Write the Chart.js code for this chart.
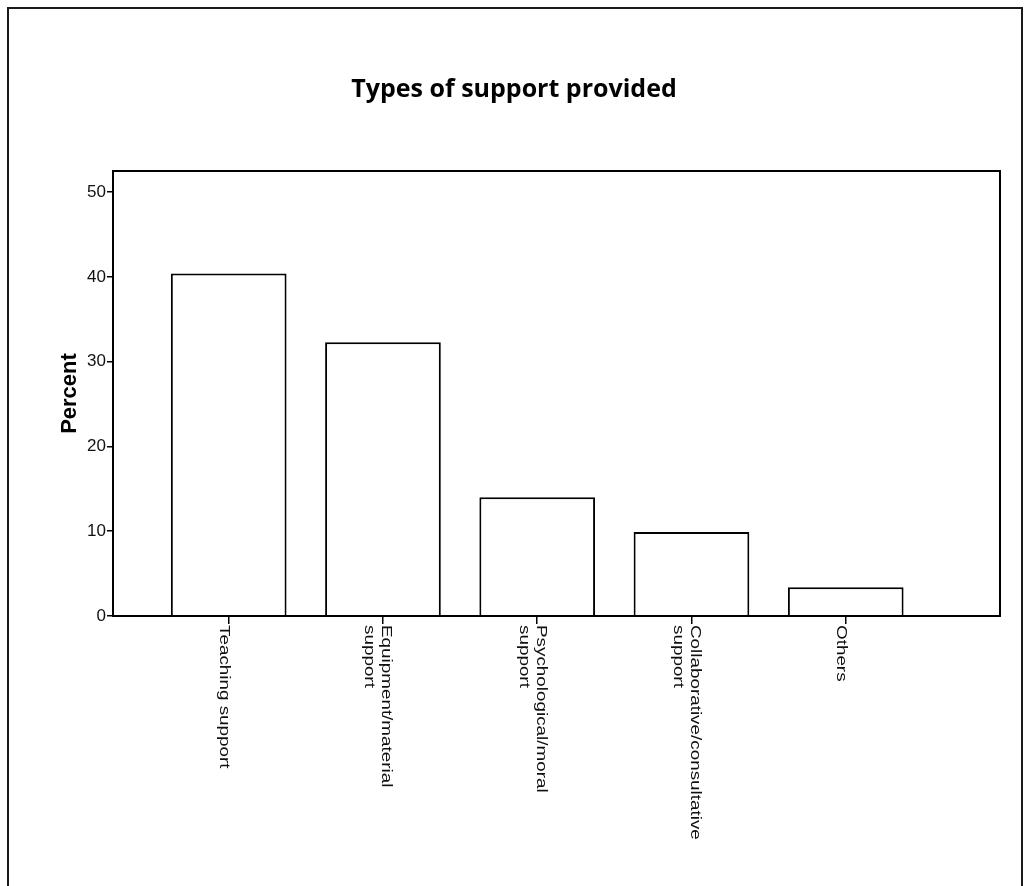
<!DOCTYPE html>
<html lang="en">
<head>
  <meta charset="UTF-8">
  <title>Types of support provided</title>
  <script src="https://cdn.jsdelivr.net/npm/chart.js"></script>
  <style>
    body {
      margin: 0;
      background: #fff;
    }
  </style>
</head>
<body>
  <canvas id="supportChart" width="1028" height="886"></canvas>

  <script>
    // values
    const categories = [
      ['Teaching support'],
      ['Equipment/material', 'support'],
      ['Psychological/moral', 'support'],
      ['Collaborative/consultative', 'support'],
      ['Others']
    ];
    const percents = [40.4, 32.3, 14.0, 9.9, 3.4];
    const yTicks = [0, 10, 20, 30, 40, 50];

    // outer page frame + white background
    const pageFrame = {
      id: 'pageFrame',
      beforeDraw(chart) {
        const ctx = chart.ctx;
        ctx.save();
        ctx.fillStyle = '#fff';
        ctx.fillRect(0, 0, chart.width, chart.height);
        ctx.strokeStyle = '#1a1a1a';
        ctx.lineWidth = 2;
        ctx.strokeRect(8, 8, 1014, 900);
        ctx.restore();
      }
    };

    // box around the plot area
    const plotBox = {
      id: 'plotBox',
      afterDatasetsDraw(chart) {
        const { ctx, chartArea: a } = chart;
        ctx.save();
        ctx.strokeStyle = '#000';
        ctx.lineWidth = 2;
        ctx.strokeRect(a.left, a.top, a.right - a.left, a.bottom - a.top);
        ctx.restore();
      }
    };

    // category labels read top-to-bottom, like the SPSS output
    const downLabels = {
      id: 'downLabels',
      afterDraw(chart) {
        const ctx = chart.ctx;
        const xs = chart.scales.x;
        const top = chart.chartArea.bottom + 9;
        ctx.save();
        ctx.font = '14.5px "Liberation Sans", Arial, sans-serif';
        ctx.fillStyle = '#111';
        ctx.textAlign = 'left';
        ctx.textBaseline = 'middle';
        xs.ticks.forEach(t => {
          const lines = categories[t.value - 1];
          if (!lines) return;
          const px = xs.getPixelForValue(t.value);
          ctx.save();
          ctx.translate(px - 5, top);
          ctx.rotate(Math.PI / 2);
          ctx.scale(1.3, 1);
          lines.forEach((ln, k) => {
            ctx.fillText(ln, 0, (k - (lines.length - 1) / 2) * 17);
          });
          ctx.restore();
        });
        ctx.restore();
      }
    };

    new Chart(document.getElementById('supportChart'), {
      type: 'bar',
      data: {
        datasets: [{
          label: 'Percent',
          data: percents.map((v, i) => ({ x: i + 1, y: v })),
          backgroundColor: '#fff',
          borderColor: '#000',
          borderWidth: 2,
          categoryPercentage: 1,
          barPercentage: 0.75
        }]
      },
      options: {
        responsive: false,
        animation: false,
        layout: { padding: 0 },
        plugins: {
          legend: { display: false },
          tooltip: { enabled: false },
          title: {
            display: true,
            text: 'Types of support provided',
            color: '#000',
            font: { family: '"Open Sans", Lato, sans-serif', size: 25, weight: 'bold' },
            padding: { top: 75, bottom: 66 }
          }
        },
        scales: {
          x: {
            type: 'linear',
            min: 0.25,
            max: 6,
            offset: false,
            afterBuildTicks(scale) {
              scale.ticks = categories.map((c, i) => ({ value: i + 1 }));
            },
            afterFit(scale) { scale.height = 270; },
            ticks: { display: false },
            grid: {
              display: true,
              offset: false,
              drawOnChartArea: false,
              drawTicks: true,
              tickLength: 8,
              color: '#000',
              lineWidth: 1.5
            },
            border: { display: false }
          },
          y: {
            min: 0,
            max: 52.5,
            afterBuildTicks(scale) {
              scale.ticks = yTicks.map(v => ({ value: v }));
            },
            afterFit(scale) { scale.width = 113; },
            ticks: {
              color: '#111',
              padding: 1,
              font: { family: '"Liberation Sans", Arial, sans-serif', size: 17 }
            },
            grid: {
              display: true,
              drawOnChartArea: false,
              drawTicks: true,
              tickLength: 6,
              color: '#000',
              lineWidth: 1.5
            },
            border: { display: false },
            title: {
              display: true,
              text: 'Percent',
              color: '#000',
              font: { family: '"Liberation Sans", Arial, sans-serif', size: 22, weight: 'bold' },
              padding: { top: 57, bottom: 0 }
            }
          },
          // empty right-hand margin so the title centres on the whole page
          yRight: {
            position: 'right',
            min: 0,
            max: 52.5,
            afterFit(scale) { scale.width = 28; },
            ticks: { display: false },
            grid: { display: false },
            border: { display: false }
          }
        }
      },
      plugins: [pageFrame, plotBox, downLabels]
    });
  </script>
</body>
</html>
